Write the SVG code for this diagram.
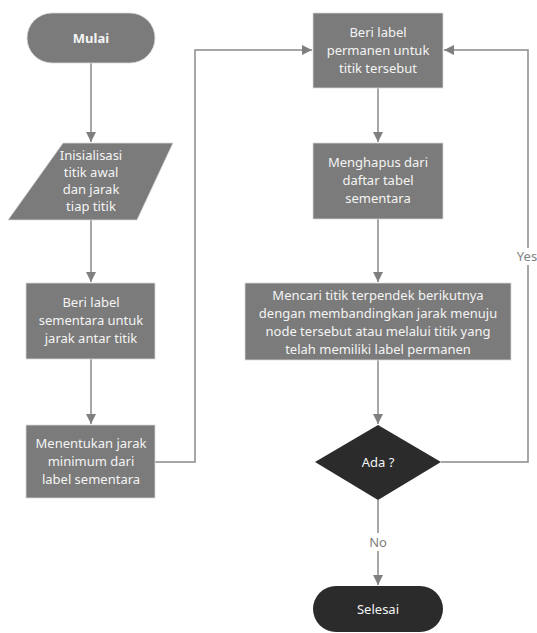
<svg xmlns="http://www.w3.org/2000/svg" width="537" height="633" viewBox="0 0 537 633">
<defs>
<marker id="arr" viewBox="0 0 10 10" refX="10" refY="5" markerWidth="10" markerHeight="10" markerUnits="userSpaceOnUse" orient="auto">
<path d="M0,0 L10,5 L0,10 Z" fill="#7f7f7f"/>
</marker>
<style>
.g{fill:#7b7b7b;stroke:#d9d9d9;stroke-width:0.8}
.d{fill:#2b2b2b}
.t{font-family:"Noto Sans","Open Sans",sans-serif;font-size:13px;fill:#f4f4f4;text-anchor:middle}
.b{font-weight:bold}
.c{fill:none;stroke:#8a8a8a;stroke-width:1.5;marker-end:url(#arr)}
.l{font-family:"Noto Sans","Open Sans",sans-serif;font-size:13px;fill:#7f7f7f;text-anchor:middle}
</style>
</defs>
<rect width="537" height="633" fill="#ffffff"/>
<g id="connectors">
<path class="c" d="M91,63 V142"/>
<path class="c" d="M91,220 V282"/>
<path class="c" d="M91,359 V424"/>
<path class="c" d="M155,462 H195 V50 H312"/>
<path class="c" d="M378,88 V142"/>
<path class="c" d="M378,219 V282"/>
<path class="c" d="M378,360 V424"/>
<path class="c" d="M441,462 H528 V50 H444"/>
<path class="c" d="M378,500 V585"/>
<rect x="364" y="533" width="28" height="18" fill="#ffffff"/>
<text class="l" x="378" y="547">No</text>
<rect x="513" y="248" width="24" height="17" fill="#ffffff"/>
<text class="l" x="527" y="261">Yes</text>
</g>
<g id="mulai">
<rect class="g" x="27" y="13" width="128" height="50" rx="25" ry="25"/>
<text class="t b" x="91" y="43">Mulai</text>
</g>
<g id="inisialisasi">
<polygon class="g" points="63,143 173,143 137,220 8,220"/>
<text class="t" x="91" y="160">Inisialisasi</text>
<text class="t" x="91" y="177">titik awal</text>
<text class="t" x="91" y="194">dan jarak</text>
<text class="t" x="91" y="211">tiap titik</text>
</g>
<g id="label-sementara">
<rect class="g" x="26" y="283" width="129" height="76"/>
<text class="t" x="91" y="307">Beri label</text>
<text class="t" x="91" y="325">sementara untuk</text>
<text class="t" x="91" y="343">jarak antar titik</text>
</g>
<g id="jarak-minimum">
<rect class="g" x="26" y="425" width="129" height="73"/>
<text class="t" x="91" y="448">Menentukan jarak</text>
<text class="t" x="91" y="466">minimum  dari</text>
<text class="t" x="91" y="484">label sementara</text>
</g>
<g id="label-permanen">
<rect class="g" x="313" y="13" width="130" height="75"/>
<text class="t" x="378" y="37">Beri label</text>
<text class="t" x="378" y="55">permanen untuk</text>
<text class="t" x="378" y="73">titik tersebut</text>
</g>
<g id="menghapus">
<rect class="g" x="313" y="143" width="130" height="76"/>
<text class="t" x="378" y="167">Menghapus dari</text>
<text class="t" x="378" y="185">daftar tabel</text>
<text class="t" x="378" y="203">sementara</text>
</g>
<g id="mencari">
<rect class="g" x="245" y="283" width="266" height="77"/>
<text class="t" x="378" y="300">Mencari titik terpendek berikutnya</text>
<text class="t" x="378" y="318">dengan membandingkan jarak menuju</text>
<text class="t" x="378" y="336">node tersebut atau melalui titik yang</text>
<text class="t" x="378" y="354">telah memiliki label permanen</text>
</g>
<g id="ada">
<polygon class="d" points="378,425 441,462 378,500 315,462"/>
<text class="t" x="378" y="467">Ada ?</text>
</g>
<g id="selesai">
<rect class="d" x="313" y="586" width="130" height="46" rx="23" ry="23"/>
<text class="t" x="378" y="614">Selesai</text>
</g>
</svg>
